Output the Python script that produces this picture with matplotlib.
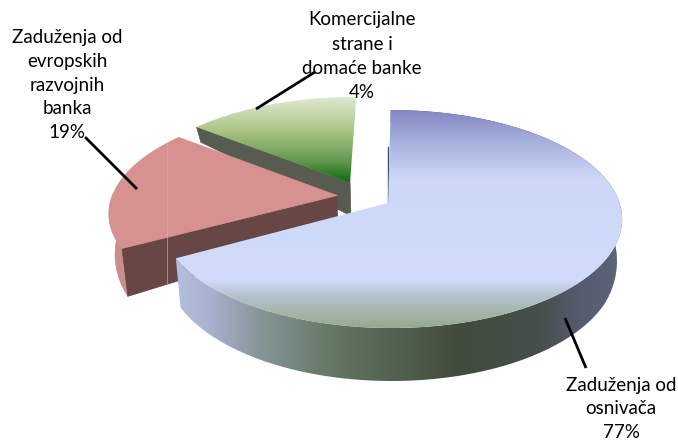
import numpy as np
import matplotlib
matplotlib.use('Agg')
import matplotlib.pyplot as plt
from matplotlib.patches import PathPatch, Polygon
from matplotlib.path import Path

plt.rcParams['font.family'] = ['Lato', 'DejaVu Sans']

# percentages printed on the labels
label_names = ['Zaduženja od\nosnivača', 'Zaduženja od\nevropskih\nrazvojnih\nbanka', 'Komercijalne\nstrane i\ndomaće banke']
label_pcts = [77, 19, 4]
# shares as the slices are really drawn in the picture (they differ from the labels)
slice_shares = [67.0, 18.6, 14.4]
explode = [0.12, 0.12, 0.15]
radii_u = [0.987, 0.98, 0.97]
radii_v = [1.0, 0.98, 0.97]
rim_shift = [0.013, 0.0, 0.008]

# perspective of the pie
X0, Y0 = 388, 203
KX, KY, G = 231.5, 106.65, 0.1468
CX, CY = -0.103, 0.061
# height of the side wall, front to back
WALL_V = [-1.0, -0.45, -0.15, 0.2, 0.8, 1.2]
WALL_H = [53, 49, 42, 33, 15, 9]


def project(u, v, lower=False):
    den = 1 + G * v
    x = X0 + KX * u / den
    y = Y0 - KY * v / den
    if lower:
        x = X0 + (x - X0) * 0.978
        y = y + np.interp(v, WALL_V, WALL_H)
    return x, y


def arc(i, t0, t1):
    t = np.radians(np.linspace(t0, t1, 200))
    ang = np.radians(mids[i])
    ox = CX + explode[i] * np.sin(ang)
    oy = CY + explode[i] * np.cos(ang)
    return ox, oy, ox + rim_shift[i] + radii_u[i] * np.sin(t), oy + radii_v[i] * np.cos(t)


def add_poly(xs, ys, color, z):
    ax.add_patch(Polygon(np.column_stack([xs, ys]), closed=True, fc=color, ec=color, lw=0.5, zorder=z))


def add_grad(xs, ys, stops, z, horizontal=False):
    # gradient picture clipped to the polygon
    pos = [s[0] for s in stops]
    n = 400
    lo, hi = (0, 678) if horizontal else (0, 441)
    grid = np.linspace(lo, hi, n)
    cols = np.stack([np.interp(grid, pos, [s[1][c] for s in stops]) for c in range(3)], axis=-1) / 255
    img = cols[None, :, :] if horizontal else cols[:, None, :]
    im = ax.imshow(img, extent=(0, 678, 441, 0), aspect='auto', zorder=z, interpolation='bilinear')
    p = PathPatch(Path(np.column_stack([xs, ys])), transform=ax.transData)
    im.set_clip_path(p)


cum = np.cumsum([0] + slice_shares) / sum(slice_shares) * 360
mids = (cum[:-1] + cum[1:]) / 2

fig = plt.figure(figsize=(6.78, 4.41), dpi=100)
ax = fig.add_axes([0, 0, 1, 1])

# GREEN slice
ox, oy, u, v = arc(2, cum[2], cum[3])
tx, ty = project(u, v)
x0, y0 = project(ox, oy)
bx0, by0 = project(ox, oy, True)
b1x, b1y = project(u[0], v[0], True)
add_poly([tx[0], x0, bx0, b1x], [ty[0], y0, by0, b1y], '#585c50', 1)
add_grad(np.r_[x0, tx], np.r_[y0, ty],
         [(97, (222, 233, 207)), (130, (172, 197, 135)), (160, (100, 155, 80)), (181, (15, 110, 15))], 2)

# RED slice
ox, oy, u, v = arc(1, cum[1], cum[2])
tx, ty = project(u, v)
x0, y0 = project(ox, oy)
bx0, by0 = project(ox, oy, True)
bx, by = project(u, v, True)
add_poly(np.r_[tx[:90], bx[:90][::-1]], np.r_[ty[:90], by[:90][::-1]], '#c98f8b', 3)
add_poly([tx[0], x0, bx0, bx[0]], [ty[0], y0, by0, by[0]], '#664745', 4)
add_poly(np.r_[x0, tx], np.r_[y0, ty], '#d79190', 5)
ax.plot([167, 167], [142, 283], color='#e0aeaa', lw=0.6, alpha=0.7, zorder=6)

# BLUE slice
ox, oy, u, v = arc(0, cum[0], cum[1])
tx, ty = project(u, v)
x0, y0 = project(ox, oy)
bx, by = project(u, v, True)
add_grad(np.r_[tx, bx[::-1]], np.r_[ty, by[::-1]],
         [(176, (178, 190, 220)), (205, (172, 180, 212)), (260, (133, 150, 152)), (330, (100, 120, 100)),
          (460, (65, 75, 60)), (540, (70, 80, 75)), (580, (85, 90, 110)), (622, (95, 100, 125))], 7, horizontal=True)
add_grad(np.r_[x0, tx], np.r_[y0, ty],
         [(110, (130, 135, 195)), (140, (165, 175, 220)), (178, (205, 216, 248)), (280, (208, 220, 250)),
          (296, (180, 195, 205)), (328, (150, 170, 140))], 8)
ax.plot([388, 388], [147, 202], color='#46486e', lw=1, zorder=6)

# leader lines
for xs, ys in [([565, 586], [318, 368]), ([85, 137], [137, 189]), ([315, 256], [72, 109])]:
    ax.plot(xs, ys, color='black', lw=2, zorder=10, solid_capstyle='butt')

# labels
label_xy = [(621, 409), (67, 85), (362, 56)]
for name, pct, (lx, ly) in zip(label_names, label_pcts, label_xy):
    ax.text(lx, ly, f'{name}\n{pct}%', ha='center', va='center', fontsize=13.5, color='black',
            linespacing=1.5, zorder=11)

ax.set_xlim(0, 678)
ax.set_ylim(441, 0)
ax.axis('off')
fig.savefig('out.png', dpi=100)
